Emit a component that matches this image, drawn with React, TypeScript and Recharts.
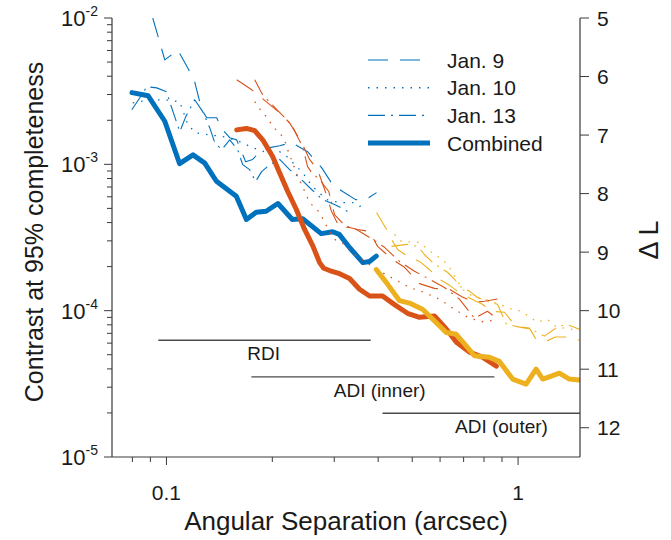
import React from 'react';
import { LineChart, Line, XAxis, YAxis, Legend, ReferenceDot, Customized } from 'recharts';

const BLUE = '#0072BD';
const ORANGE = '#D95319';
const YELLOW = '#EDB120';
const AX = '#3a3a3a';
const TXT = '#1a1a1a';
const FONT = '"Liberation Sans", Arial, Helvetica, sans-serif';

type P = [number, number];

// ---- tick values ----
const xTicks = [0.08, 0.09, 0.1, 0.2, 0.3, 0.4, 0.5, 0.6, 0.7, 0.8, 0.9, 1];
const xLabelTicks = [0.1, 1];
const xLabelTexts = ['0.1', '1'];
const yTicks = [
  1e-5, 2e-5, 3e-5, 4e-5, 5e-5, 6e-5, 7e-5, 8e-5, 9e-5,
  1e-4, 2e-4, 3e-4, 4e-4, 5e-4, 6e-4, 7e-4, 8e-4, 9e-4,
  1e-3, 2e-3, 3e-3, 4e-3, 5e-3, 6e-3, 7e-3, 8e-3, 9e-3, 1e-2,
];
const yLabelTicks = [1e-5, 1e-4, 1e-3, 1e-2];
const yLabelExps = ['-5', '-4', '-3', '-2'];
const dLTicks = [5, 6, 7, 8, 9, 10, 11, 12];

// ---- RDI (blue) ----
const rdiJan9: P[] = [[0.0914,1.0e-2],[0.0989,5.17e-3],[0.1077,6.05e-3],[0.115,4.56e-3],[0.1203,3.66e-3],[0.126,2.36e-3],[0.1302,2.08e-3],[0.139,2.08e-3],[0.1427,1.78e-3],[0.1513,1.52e-3],[0.1584,1.47e-3],[0.168,1.04e-3],[0.1759,1.08e-3],[0.1865,1.26e-3],[0.1966,1.3e-3],[0.2099,1.34e-3],[0.227,1.41e-3],[0.252,1.22e-3],[0.2762,9.5e-4],[0.2969,7.27e-4],[0.317,6.52e-4],[0.3451,5.74e-4],[0.3684,5.74e-4],[0.3958,6.41e-4]];
const rdiJan10: P[] = [[0.0802,2.63e-3],[0.0897,2.76e-3],[0.0989,2.76e-3],[0.1091,2.68e-3],[0.115,1.87e-3],[0.1211,1.64e-3],[0.1327,1.59e-3],[0.1464,1.54e-3],[0.1615,1.43e-3],[0.1759,1.3e-3],[0.193,1.2e-3],[0.2099,1.22e-3],[0.2198,1.13e-3],[0.2439,8.78e-4],[0.2604,7.05e-4],[0.2854,5.74e-4],[0.3107,5.48e-4],[0.3384,5.48e-4],[0.3541,5.15e-4],[0.3707,5.48e-4]];
const rdiJan13: P[] = [[0.0797,2.36e-3],[0.084,2.85e-3],[0.0879,3.39e-3],[0.0938,3.33e-3],[0.1002,3.13e-3],[0.1028,2.55e-3],[0.1056,2.11e-3],[0.1091,1.67e-3],[0.1134,2.11e-3],[0.1203,2.76e-3],[0.1268,2.29e-3],[0.1327,1.78e-3],[0.1372,1.41e-3],[0.1436,1.26e-3],[0.1513,1.47e-3],[0.1594,1.26e-3],[0.1647,9.95e-4],[0.1724,9.2e-4],[0.1793,7.62e-4],[0.1865,8.92e-4],[0.1966,9.95e-4],[0.2099,1.08e-3],[0.224,9.2e-4],[0.2391,8.11e-4],[0.2587,6.73e-4],[0.278,5.74e-4],[0.3006,5.31e-4],[0.3211,4.91e-4],[0.3361,4.54e-4]];
const rdiCombined: P[] = [[0.0798,3.09e-3],[0.0887,2.94e-3],[0.0989,1.97e-3],[0.109,1.01e-3],[0.119,1.16e-3],[0.1285,1.02e-3],[0.1387,7.66e-4],[0.158,6.05e-4],[0.1688,4.2e-4],[0.18,4.71e-4],[0.192,4.78e-4],[0.2075,5.4e-4],[0.228,4.2e-4],[0.244,4.25e-4],[0.2755,3.36e-4],[0.297,3.46e-4],[0.31,3.32e-4],[0.332,2.69e-4],[0.362,2.13e-4],[0.378,2.17e-4],[0.395,2.36e-4]];

// ---- ADI inner (orange) ----
const adiJan9: P[] = [[0.1584,3.78e-3],[0.1748,3.23e-3],[0.194,2.63e-3],[0.2099,2.25e-3],[0.224,1.92e-3],[0.2424,1.41e-3],[0.2553,1.08e-3],[0.269,9.2e-4],[0.2817,6.73e-4],[0.2948,4.76e-4],[0.3107,3.7e-4],[0.3317,3.7e-4],[0.3495,3.59e-4],[0.3781,3.48e-4],[0.3985,2.75e-4],[0.4394,2.24e-4],[0.4753,1.98e-4],[0.5244,1.53e-4],[0.5783,1.42e-4],[0.6379,1.4e-4],[0.6901,1.25e-4],[0.7514,1.14e-4],[0.8024,1.16e-4],[0.8736,1.2e-4]];
const adiJan10: P[] = [[0.1782,2.68e-3],[0.1865,2.29e-3],[0.194,2.08e-3],[0.2004,1.81e-3],[0.2099,1.64e-3],[0.2168,1.47e-3],[0.2211,1.26e-3],[0.2284,1.03e-3],[0.236,8.24e-4],[0.2424,7.27e-4],[0.2553,5.48e-4],[0.2726,4.69e-4],[0.2817,4.0e-4],[0.3006,3.07e-4],[0.3211,2.84e-4],[0.3426,2.42e-4],[0.366,2.17e-4],[0.4037,1.86e-4],[0.4452,1.64e-4],[0.4912,1.44e-4],[0.5417,1.33e-4],[0.5976,1.2e-4],[0.6592,1.02e-4],[0.7273,8.88e-5],[0.8024,8.34e-5],[0.868,8.74e-5]];
const adiJan13: P[] = [[0.1782,3.78e-3],[0.1877,2.99e-3],[0.2063,2.36e-3],[0.2198,2.02e-3],[0.2284,1.81e-3],[0.236,1.54e-3],[0.2439,1.32e-3],[0.252,9.64e-4],[0.2587,8.78e-4],[0.2726,7.87e-4],[0.2895,6.52e-4],[0.3006,4.54e-4],[0.3211,3.82e-4],[0.3472,3.59e-4],[0.3781,3.16e-4],[0.4171,2.71e-4],[0.4601,2.17e-4],[0.5075,1.86e-4],[0.5598,1.64e-4],[0.6173,1.44e-4],[0.6811,1.2e-4],[0.7514,8.88e-5],[0.8182,9.9e-5],[0.868,8.88e-5]];
const adiCombined: P[] = [[0.1584,1.72e-3],[0.1688,1.76e-3],[0.1782,1.7e-3],[0.1878,1.47e-3],[0.2004,1.13e-3],[0.2099,8.74e-4],[0.2211,6.55e-4],[0.2341,4.91e-4],[0.2471,3.59e-4],[0.2609,2.76e-4],[0.2726,2.13e-4],[0.28,1.95e-4],[0.291,1.88e-4],[0.3107,1.79e-4],[0.3317,1.66e-4],[0.354,1.4e-4],[0.378,1.26e-4],[0.4117,1.26e-4],[0.4452,1.1e-4],[0.4847,9.6e-5],[0.5244,9.0e-5],[0.5783,9.2e-5],[0.6256,7.47e-5],[0.6678,6.09e-5],[0.7273,5.21e-5],[0.7916,4.82e-5],[0.8675,4.18e-5]];

// ---- ADI outer (yellow) ----
const oadiJan9: P[] = [[0.3958,4.69e-4],[0.4226,3.59e-4],[0.4366,3.07e-4],[0.4542,2.62e-4],[0.4912,2.31e-4],[0.5244,2.17e-4],[0.5598,1.91e-4],[0.5976,1.64e-4],[0.6379,1.49e-4],[0.6811,1.33e-4],[0.7368,1.2e-4],[0.7916,1.105e-4],[0.8453,9.9e-5],[0.9143,9.75e-5],[0.9634,8.34e-5],[1.0218,7.72e-5],[1.0768,7.6e-5],[1.12,6.49e-5],[1.1878,6.1e-5],[1.2764,6.6e-5],[1.3627,6.6e-5],[1.4646,6.38e-5],[1.494,6.28e-5]];
const oadiJan10: P[] = [[0.4452,3.32e-4],[0.4661,2.97e-4],[0.5244,2.93e-4],[0.5525,2.62e-4],[0.5783,2.42e-4],[0.6094,2.24e-4],[0.6379,1.98e-4],[0.6678,1.64e-4],[0.6947,1.4e-4],[0.7368,1.27e-4],[0.8024,1.2e-4],[0.885,1.105e-4],[0.9634,1.02e-4],[1.0218,9.9e-5],[1.1346,8.34e-5],[1.2112,8.74e-5],[1.2849,7.72e-5],[1.3536,7.6e-5],[1.4168,7.47e-5],[1.494,7.24e-5]];
const oadiJan13: P[] = [[0.4366,2.75e-4],[0.4816,2.84e-4],[0.5176,2.75e-4],[0.5417,2.42e-4],[0.5671,2.17e-4],[0.5976,1.98e-4],[0.6297,1.83e-4],[0.6592,1.64e-4],[0.6901,1.44e-4],[0.7273,1.36e-4],[0.7662,1.23e-4],[0.8182,1.16e-4],[0.8736,1.105e-4],[0.9263,8.08e-5],[1.0085,7.72e-5],[1.0909,7.47e-5],[1.1878,6.7e-5],[1.2934,7.72e-5],[1.372,8.08e-5],[1.4646,7.6e-5],[1.494,7.47e-5]];
const oadiCombined: P[] = [[0.395,1.91e-4],[0.4217,1.56e-4],[0.46,1.17e-4],[0.491,1.127e-4],[0.536,1.02e-4],[0.572,8.74e-5],[0.6245,7.09e-5],[0.6668,6.9e-5],[0.7118,5.74e-5],[0.7514,4.92e-5],[0.8287,4.8e-5],[0.885,4.5e-5],[0.965,3.41e-5],[1.054,3.15e-5],[1.125,3.99e-5],[1.175,3.41e-5],[1.243,3.57e-5],[1.31,3.74e-5],[1.399,3.41e-5],[1.493,3.36e-5]];

// ---- working-range annotations ----
const rangeNames = ['RDI', 'ADI (inner)', 'ADI (outer)'];
const rangeStart = [0.0948, 0.1744, 0.4116];
const rangeEnd = [0.381, 0.856, 1.5];
const rangeLevel = [6.28e-5, 3.53e-5, 1.99e-5];
const rangeLabelX = [0.189, 0.404, 0.897];

const legendLabels = ['Jan. 9', 'Jan. 10', 'Jan. 13', 'Combined'];

const DASH = '20 12';
const DOT = '1.5 7';
const DASHDOT = '17 6 2 6';

const toPts = (a: P[]) => a.map(([x, y]) => ({ x, y }));

const series = [
  { d: rdiJan9, c: BLUE, dash: DASH, w: 1.1 },
  { d: rdiJan10, c: BLUE, dash: DOT, w: 1.3 },
  { d: rdiJan13, c: BLUE, dash: DASHDOT, w: 1.1 },
  { d: rdiCombined, c: BLUE, dash: undefined, w: 5 },
  { d: adiJan9, c: ORANGE, dash: DASH, w: 1.1 },
  { d: adiJan10, c: ORANGE, dash: DOT, w: 1.3 },
  { d: adiJan13, c: ORANGE, dash: DASHDOT, w: 1.1 },
  { d: adiCombined, c: ORANGE, dash: undefined, w: 5 },
  { d: oadiJan9, c: YELLOW, dash: DASH, w: 1.1 },
  { d: oadiJan10, c: YELLOW, dash: DOT, w: 1.3 },
  { d: oadiJan13, c: YELLOW, dash: DASHDOT, w: 1.1 },
  { d: oadiCombined, c: YELLOW, dash: undefined, w: 5 },
];

const legendStyles = [
  { dash: DASH, w: 1.2 },
  { dash: DOT, w: 1.4 },
  { dash: DASHDOT, w: 1.2 },
  { dash: undefined, w: 5 },
];

const near = (a: number, b: number) => Math.abs(a - b) < 1e-9 * Math.max(1, Math.abs(b));

const BottomTick = (p: any) => {
  const v = p.payload.value;
  const idx = xLabelTicks.findIndex((t) => near(t, v));
  const major = idx >= 0;
  return (
    <g>
      <line x1={p.x} x2={p.x} y1={p.y} y2={p.y + (major ? 8 : 5)} stroke={AX} strokeWidth={1} />
      {major && (
        <text x={p.x} y={p.y + 43} textAnchor="middle" fontSize={21} fontFamily={FONT} fill={TXT}>
          {xLabelTexts[idx]}
        </text>
      )}
    </g>
  );
};

const TopTick = (p: any) => {
  const v = p.payload.value;
  const major = xLabelTicks.some((t) => near(t, v));
  return <line x1={p.x} x2={p.x} y1={p.y} y2={p.y - (major ? 8 : 5)} stroke={AX} strokeWidth={1} />;
};

const LeftTick = (p: any) => {
  const v = p.payload.value;
  const idx = yLabelTicks.findIndex((t) => near(t, v));
  const major = idx >= 0;
  return (
    <g>
      <line x1={p.x - (major ? 8 : 5)} x2={p.x} y1={p.y} y2={p.y} stroke={AX} strokeWidth={1} />
      {major && (
        <text x={p.x - 14} y={p.y + 8} textAnchor="end" fontFamily={FONT} fill={TXT}>
          <tspan fontSize={22}>10</tspan>
          <tspan fontSize={14} dy={-10}>{yLabelExps[idx]}</tspan>
        </text>
      )}
    </g>
  );
};

const RightTick = (p: any) => (
  <g>
    <line x1={p.x} x2={p.x + 9} y1={p.y} y2={p.y} stroke={AX} strokeWidth={1} />
    <text x={p.x + 17} y={p.y + 7.5} textAnchor="start" fontSize={21} fontFamily={FONT} fill={TXT}>
      {p.payload.value}
    </text>
  </g>
);

const LegendContent = () => (
  <svg width={200} height={115} style={{ display: 'block' }}>
    {legendLabels.map((lab, i) => {
      const y = 12 + i * 27.7;
      return (
        <g key={lab}>
          <line x1={0} x2={62} y1={y} y2={y} stroke={BLUE} strokeWidth={legendStyles[i].w} strokeDasharray={legendStyles[i].dash} />
          <text x={79} y={y + 7.5} fontSize={21} fontFamily={FONT} fill={TXT}>{lab}</text>
        </g>
      );
    })}
  </svg>
);

const Titles = () => (
  <g fontFamily={FONT} fill={TXT}>
    <text x={346} y={530} textAnchor="middle" fontSize={26}>Angular Separation (arcsec)</text>
    <text transform="translate(43,232) rotate(-90)" textAnchor="middle" fontSize={25}>Contrast at 95% completeness</text>
    <text transform="translate(658,240) rotate(-90)" textAnchor="middle" fontSize={27}>Δ L</text>
  </g>
);

export default function App() {
  return (
    <div style={{ position: 'absolute', left: 0, top: 0, width: 671, height: 540, overflow: 'hidden' }}>
      <LineChart width={671} height={540} margin={{ top: 18, right: 0, bottom: 0, left: 0 }} style={{ fontFamily: FONT }}>
        <XAxis
          xAxisId="b" dataKey="x" type="number" scale="log" domain={[0.07, 1.5]} allowDataOverflow
          ticks={xTicks} interval={0} tickSize={0} tickMargin={0} tickLine={false}
          tick={<BottomTick />} height={83} axisLine={{ stroke: AX, strokeWidth: 1.2 }}
        />
        <XAxis
          xAxisId="t" orientation="top" dataKey="x" type="number" scale="log" domain={[0.07, 1.5]} allowDataOverflow
          ticks={xTicks} interval={0} tickSize={0} tickMargin={0} tickLine={false}
          tick={<TopTick />} height={0} axisLine={{ stroke: AX, strokeWidth: 1.2 }}
        />
        <YAxis
          yAxisId="l" type="number" scale="log" domain={[1e-5, 1e-2]} allowDataOverflow
          ticks={yTicks} interval={0} tickSize={0} tickMargin={0} tickLine={false}
          tick={<LeftTick />} width={112} axisLine={{ stroke: AX, strokeWidth: 1.2 }}
        />
        <YAxis
          yAxisId="r" orientation="right" type="number" domain={[5, 12.5]} reversed allowDataOverflow
          ticks={dLTicks} interval={0} tickSize={0} tickMargin={0} tickLine={false}
          tick={<RightTick />} width={91} axisLine={{ stroke: AX, strokeWidth: 1.2 }}
        />
        {rangeNames.map((n, i) => (
          <Line
            key={'range' + n} xAxisId="b" yAxisId="l" dataKey="y" isAnimationActive={false} dot={false}
            data={[{ x: rangeStart[i], y: rangeLevel[i] }, { x: rangeEnd[i], y: rangeLevel[i] }]}
            stroke="#4a4a4a" strokeWidth={1.3}
          />
        ))}
        {series.map((s, i) => (
          <Line
            key={'s' + i} xAxisId="b" yAxisId="l" dataKey="y" data={toPts(s.d)} isAnimationActive={false}
            dot={false} stroke={s.c} strokeWidth={s.w} strokeDasharray={s.dash}
            strokeLinejoin="round" strokeLinecap={s.dash ? 'butt' : 'round'}
          />
        ))}
        {rangeNames.map((n, i) => (
          <ReferenceDot
            key={'lab' + n} xAxisId="b" yAxisId="l" x={rangeLabelX[i]} y={rangeLevel[i]} r={0}
            shape={(p: any) => (
              <text x={p.cx} y={p.cy + 20} textAnchor="middle" fontSize={19} fontFamily={FONT} fill={TXT}>{n}</text>
            )}
          />
        ))}
        <Legend
          layout="vertical" align="center" verticalAlign="middle" content={<LegendContent />}
          wrapperStyle={{ left: 368, top: 48, width: 200, height: 115 }}
        />
        <Customized component={<Titles />} />
      </LineChart>
    </div>
  );
}
